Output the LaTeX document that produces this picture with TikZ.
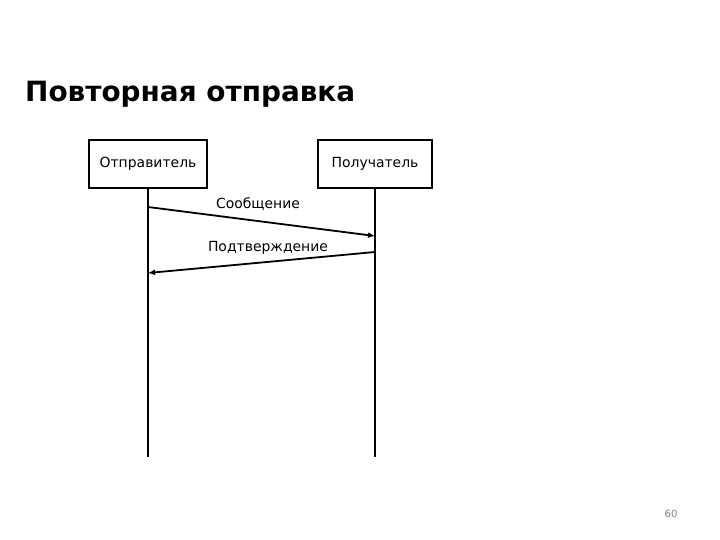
\documentclass[tikz,border=0pt]{standalone}
\usepackage{fontspec}
\setmainfont{DejaVu Sans}
\usetikzlibrary{arrows.meta}
\tikzset{
  actor/.style={draw, line width=1.5bp, minimum width=118bp, minimum height=48bp, inner sep=0pt, font=\fontsize{14}{16}\selectfont},
  lifeline/.style={line width=2.8bp},
  msg/.style={line width=1.8bp, -{Latex[length=7bp,width=6bp]}},
  msglabel/.style={font=\fontsize{14}{16}\selectfont}
}
\begin{document}
\begin{tikzpicture}[x=1bp,y=-1bp]
				\useasboundingbox (0,0) rectangle (720,540);
				\node [anchor=base west, inner sep=0pt, font=\bfseries\fontsize{28}{32}\selectfont] (title) at (25,102) {Повторная отправка};
				\node [actor] (snd) at (148,164) {Отправитель};
				\node [actor, minimum width=114bp] (rcv) at (375,164) {Получатель};
				\coordinate (sndend) at (148,457);
				\coordinate (rcvend) at (375,457);
				\draw [lifeline] (snd.south) -- (sndend);
				\draw [lifeline] (rcv.south) -- (rcvend);
				\coordinate (m1s) at (148,207);
				\coordinate (m1e) at (375,236);
				\coordinate (m2s) at (375,252);
				\coordinate (m2e) at (148,273);
				\draw [msg] (m1s) -- (m1e);
				\draw [msg] (m2s) -- (m2e);
				\node [msglabel] (m1lbl) at (258,204) {Сообщение};
				\node [msglabel] (m2lbl) at (268,248) {Подтверждение};
				\node [text=gray, font=\fontsize{10}{12}\selectfont] (pg) at (671,514) {60};
			\end{tikzpicture}
\end{document}
